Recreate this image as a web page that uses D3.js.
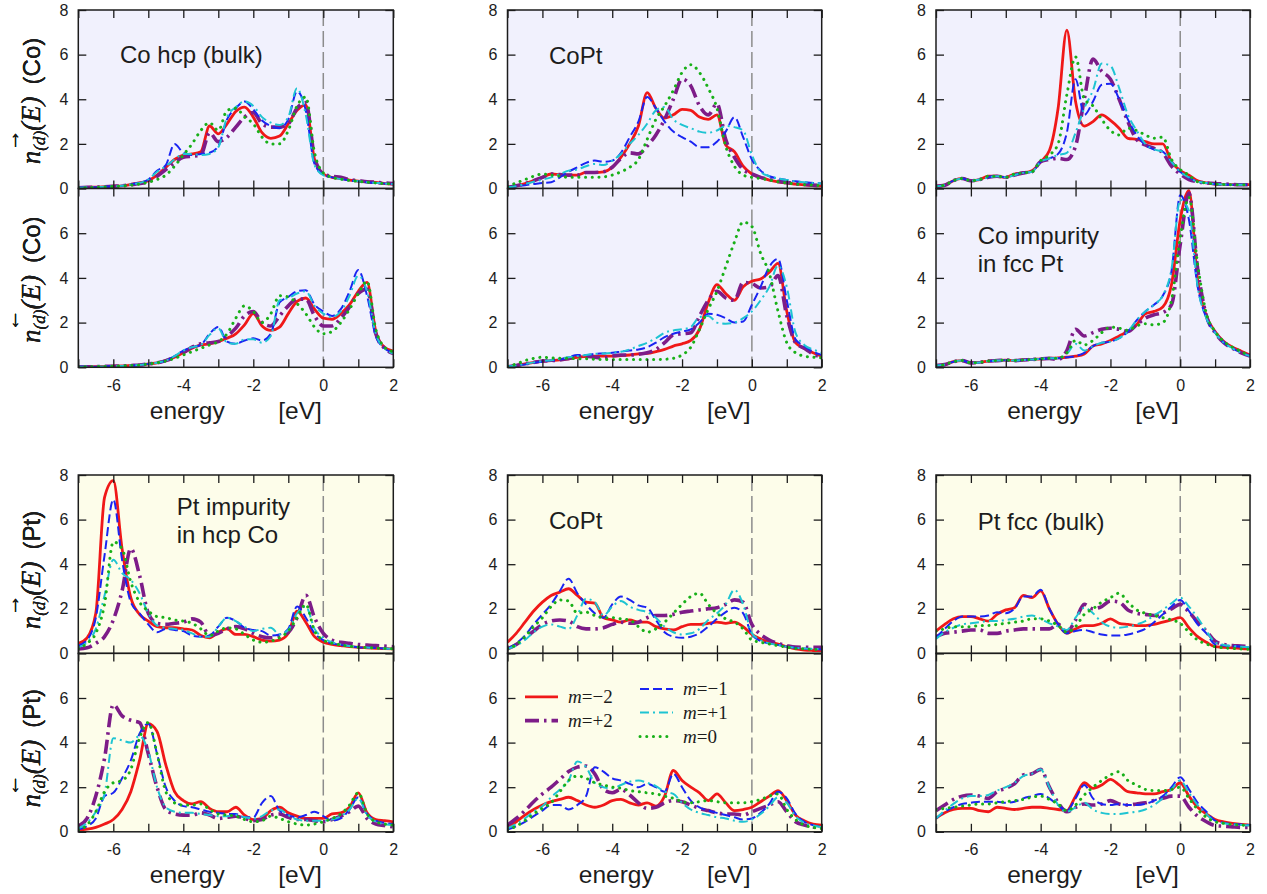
<!DOCTYPE html>
<html>
<head>
<meta charset="utf-8">
<script src="https://cdn.jsdelivr.net/npm/d3@7"></script>
<style>
  body { margin: 0; background: #fff; }
  svg { display: block; }
</style>
</head>
<body>
<svg id="chart" width="1267" height="894"></svg>
<script>
// ---- energy grid (eV) shared by every curve ----
const energy = [-7,-6.75,-6.5,-6.25,-6,-5.75,-5.5,-5.25,-5,-4.75,-4.5,-4.25,-4,-3.75,-3.5,-3.25,-3,-2.75,-2.5,-2.25,-2,-1.75,-1.5,-1.25,-1,-0.75,-0.5,-0.25,0,0.25,0.5,0.75,1,1.25,1.5,1.75,2];
const xTickValues = [-7,-6,-5,-4,-3,-2,-1,0,1,2];
const xTickLabels = [-6,-4,-2,0,2];
const yTickValues = [0,2,4,6,8];

// ---- Co hcp (bulk), Co site ----
const coHcpUp_mm2 = [0.03,0.05,0.06,0.08,0.1,0.12,0.18,0.25,0.35, 0.6,0.95,1.3,1.5,1.55,1.65,2.8,2.45, 2.9,3.45,3.65,3.2,2.5,2.25,2.35,2.9, 3.5,3.75,1.3,0.65,0.5,0.45,0.38,0.33, 0.3,0.27,0.22,0.2];
const coHcpUp_mp2 = [0.03,0.05,0.06,0.08,0.1,0.12,0.17,0.22,0.3, 0.55,0.85,1.15,1.4,1.45,1.5,2.5,2.1, 2.3,2.75,3.2,3.4,2.9,2.75,2.75,2.9, 3.6,3.85,1.4,0.65,0.55,0.5,0.4,0.35, 0.3,0.28,0.25,0.22];
const coHcpUp_mm1 = [0.03,0.04,0.06,0.08,0.1,0.12,0.18,0.25,0.4, 0.8,1.05,2.0,1.6,1.5,1.55,1.6,1.9, 3.1,3.6,3.9,3.55,3.05,2.8,2.7,3.1, 4.35,3.5,1.1,0.62,0.5,0.42,0.36,0.32, 0.28,0.25,0.22,0.2];
const coHcpUp_mp1 = [0.03,0.04,0.06,0.08,0.1,0.12,0.18,0.25,0.4, 0.75,1.0,1.3,1.55,1.55,1.5,1.55,1.85, 3.2,3.65,3.9,3.7,3.2,2.95,2.85,3.2, 4.5,3.3,1.05,0.6,0.5,0.42,0.36,0.32, 0.28,0.25,0.22,0.2];
const coHcpUp_m0  = [0.03,0.04,0.05,0.07,0.09,0.11,0.15,0.2,0.28, 0.4,0.6,1.0,1.5,2.0,2.6,2.95,2.6, 3.5,3.6,3.2,2.9,2.3,2.0,2.0,2.6, 3.7,4.1,1.6,0.7,0.5,0.42,0.36,0.32, 0.28,0.25,0.22,0.2];
const coHcpDn_mm2 = [0.02,0.02,0.03,0.04,0.05,0.06,0.08,0.1,0.15, 0.2,0.3,0.45,0.65,0.85,1.0,1.05,1.15, 1.3,1.5,1.9,2.4,1.85,1.65,1.8,2.4, 2.95,3.1,2.6,2.2,2.15,2.4,2.8,3.4, 3.8,1.6,0.9,0.72];
const coHcpDn_mp2 = [0.02,0.02,0.03,0.04,0.05,0.06,0.08,0.1,0.15, 0.2,0.3,0.45,0.65,0.9,1.05,1.1,1.15, 1.4,1.75,2.3,2.5,2.0,1.85,2.3,2.75, 3.05,3.05,2.3,1.85,1.85,2.2,2.7,3.3, 3.5,1.5,0.85,0.62];
const coHcpDn_mm1 = [0.02,0.02,0.03,0.04,0.05,0.06,0.08,0.1,0.15, 0.2,0.3,0.5,0.75,0.9,1.0,1.5,1.8, 1.15,1.05,1.2,1.3,1.2,1.5,2.9,3.15, 3.4,3.45,2.8,2.5,2.3,2.6,3.4,4.35, 3.2,1.4,0.85,0.65];
const coHcpDn_mp1 = [0.02,0.02,0.03,0.04,0.05,0.06,0.08,0.1,0.15, 0.2,0.3,0.5,0.75,0.9,1.0,1.45,1.75, 1.1,1.05,1.25,1.25,1.1,1.4,3.0,3.1, 3.3,3.4,2.75,2.4,2.25,2.5,3.2,4.1, 3.4,1.5,0.85,0.62];
const coHcpDn_m0  = [0.02,0.02,0.03,0.04,0.05,0.06,0.08,0.1,0.15, 0.2,0.28,0.4,0.55,0.7,0.85,1.0,1.15, 1.5,2.2,2.75,2.5,2.0,2.4,3.2,3.15, 2.85,2.4,1.8,1.5,1.6,2.0,2.6,3.3, 3.85,1.7,0.9,0.7];

// ---- CoPt, Co site ----
const coPtCoUp_mm2 = [0.05,0.12,0.22,0.35,0.5,0.65,0.62,0.6,0.6, 0.72,0.72,0.75,0.95,1.4,2.0,2.8,4.3, 3.6,3.15,3.3,3.55,3.5,3.2,3.1,3.3, 1.95,1.65,1.0,0.65,0.5,0.38,0.3,0.24, 0.2,0.16,0.13,0.12];
const coPtCoUp_mp2 = [0.05,0.12,0.22,0.35,0.5,0.65,0.62,0.6,0.6, 0.72,0.72,0.75,0.95,1.35,1.6,1.55,1.9, 2.4,3.1,4.0,4.9,4.6,3.7,3.3,3.8, 2.2,1.4,0.85,0.65,0.5,0.4,0.32,0.27, 0.22,0.18,0.15,0.13];
const coPtCoUp_mm1 = [0.05,0.1,0.15,0.2,0.25,0.28,0.5,0.75,0.95, 1.15,1.25,1.2,1.25,1.6,2.3,3.0,4.1, 3.6,3.0,2.55,2.3,2.1,1.85,1.85,2.1, 2.55,3.2,2.3,1.3,0.8,0.55,0.45,0.38, 0.32,0.28,0.25,0.22];
const coPtCoUp_mp1 = [0.05,0.1,0.2,0.3,0.4,0.5,0.65,0.8,0.85, 1.0,1.1,1.05,1.25,1.55,2.0,2.4,2.9, 3.5,3.65,3.1,2.85,2.7,2.55,2.5,2.6, 2.8,2.75,2.6,1.5,0.75,0.55,0.45,0.38, 0.32,0.28,0.25,0.22];
const coPtCoUp_m0  = [0.1,0.25,0.4,0.55,0.65,0.6,0.55,0.5,0.5, 0.5,0.5,0.52,0.6,0.75,0.95,1.3,2.2, 3.1,3.7,4.4,5.2,5.55,5.2,4.5,3.6, 1.9,1.0,0.6,0.5,0.45,0.38,0.3,0.25, 0.2,0.17,0.15,0.13];
const coPtCoDn_mm2 = [0.02,0.08,0.15,0.22,0.27,0.3,0.33,0.38,0.45, 0.48,0.5,0.5,0.5,0.52,0.55,0.6,0.62, 0.7,0.8,0.95,1.05,1.2,1.7,2.9,3.7, 3.3,3.0,3.6,3.85,3.95,4.25,4.65,2.5, 1.1,0.85,0.65,0.5];
const coPtCoDn_mp2 = [0.02,0.08,0.15,0.22,0.28,0.3,0.33,0.4,0.48, 0.5,0.45,0.42,0.5,0.55,0.55,0.58,0.65, 0.8,1.1,1.45,1.5,1.55,2.3,3.0,3.4, 3.1,3.0,3.8,3.75,3.55,3.6,4.1,2.3, 1.1,0.85,0.6,0.45];
const coPtCoDn_mm1 = [0.03,0.08,0.13,0.2,0.25,0.3,0.35,0.45,0.55, 0.55,0.6,0.62,0.65,0.7,0.75,0.8,0.9, 1.1,1.35,1.5,1.6,1.7,2.0,2.4,2.35, 2.2,2.0,2.05,2.8,3.6,4.5,4.85,3.0, 1.25,0.95,0.7,0.55];
const coPtCoDn_mp1 = [0.03,0.08,0.15,0.22,0.28,0.32,0.38,0.45,0.5, 0.55,0.6,0.62,0.65,0.7,0.8,0.95,1.1, 1.3,1.55,1.65,1.7,1.8,2.25,2.3,2.0, 1.95,2.0,2.2,2.5,3.0,3.6,4.55,3.6, 1.55,1.0,0.8,0.65];
const coPtCoDn_m0  = [0.05,0.15,0.3,0.4,0.45,0.42,0.4,0.4,0.38, 0.38,0.36,0.35,0.35,0.35,0.35,0.35,0.35, 0.35,0.36,0.4,0.55,0.9,1.7,2.6,3.4, 4.5,5.6,6.5,6.3,5.1,4.2,2.5,1.1, 0.65,0.5,0.45,0.42];

// ---- Co impurity in fcc Pt, Co site ----
const coImpUp_mm2 = [0.1,0.15,0.35,0.45,0.35,0.4,0.55,0.55,0.5, 0.65,0.7,0.8,1.2,1.7,3.6,7.1,3.9, 2.8,3.0,3.3,3.05,2.7,2.25,2.2,2.1, 2.0,2.0,1.2,0.8,0.6,0.35,0.25,0.2, 0.18,0.17,0.17,0.17];
const coImpUp_mp2 = [0.1,0.15,0.35,0.45,0.35,0.4,0.5,0.55,0.5, 0.6,0.7,0.75,1.2,1.3,1.35,1.3,1.9, 4.0,5.8,5.25,4.9,4.0,3.0,2.2,1.95, 1.8,1.6,1.0,0.65,0.4,0.3,0.25,0.22, 0.2,0.18,0.17,0.17];
const coImpUp_mm1 = [0.1,0.15,0.35,0.45,0.35,0.4,0.5,0.55,0.5, 0.6,0.7,0.75,1.2,1.35,1.55,2.5,4.9, 3.3,3.9,4.65,4.7,4.0,3.1,2.4,1.95, 1.75,1.65,1.2,0.75,0.5,0.3,0.25,0.2, 0.18,0.17,0.17,0.17];
const coImpUp_mp1 = [0.1,0.15,0.35,0.45,0.35,0.4,0.5,0.55,0.5, 0.6,0.7,0.75,1.2,1.35,1.5,1.6,2.5, 3.6,4.4,5.6,5.5,4.5,3.3,2.6,2.0, 1.75,1.65,1.2,0.75,0.5,0.3,0.25,0.2, 0.18,0.17,0.17,0.17];
const coImpUp_m0  = [0.1,0.15,0.35,0.45,0.35,0.4,0.55,0.55,0.5, 0.65,0.7,0.75,1.25,1.5,2.0,4.2,5.9, 4.0,3.7,3.1,2.6,2.4,2.7,2.6,2.4, 2.25,2.3,1.3,0.85,0.6,0.3,0.25,0.2, 0.18,0.17,0.17,0.17];
const coImpDn_mm2 = [0.08,0.12,0.25,0.3,0.2,0.22,0.28,0.3,0.32, 0.3,0.33,0.35,0.38,0.4,0.42,0.45,0.5, 0.6,0.95,1.05,1.2,1.4,1.6,1.9,2.4, 2.5,2.7,3.7,6.6,7.9,3.9,2.3,1.6, 1.15,0.9,0.72,0.55];
const coImpDn_mp2 = [0.08,0.12,0.25,0.3,0.2,0.22,0.28,0.3,0.32, 0.3,0.33,0.35,0.38,0.4,0.35,0.75,1.7, 1.4,1.55,1.7,1.75,1.7,1.6,1.9,2.2, 2.35,2.45,2.8,5.5,7.8,4.4,2.3,1.55, 1.1,0.85,0.65,0.5];
const coImpDn_mm1 = [0.08,0.12,0.25,0.3,0.2,0.22,0.28,0.3,0.32, 0.3,0.33,0.35,0.38,0.4,0.4,0.45,0.5, 0.65,0.95,1.1,1.15,1.3,1.6,2.1,2.5, 2.8,3.2,4.3,7.7,6.6,3.6,2.2,1.55, 1.1,0.85,0.65,0.5];
const coImpDn_mp1 = [0.08,0.12,0.25,0.3,0.2,0.22,0.28,0.3,0.32, 0.3,0.33,0.35,0.38,0.4,0.42,0.6,1.05, 0.75,0.95,1.1,1.15,1.3,1.6,2.1,2.5, 2.8,3.2,4.4,7.5,7.0,3.6,2.2,1.55, 1.1,0.85,0.65,0.5];
const coImpDn_m0  = [0.08,0.12,0.25,0.3,0.2,0.22,0.28,0.3,0.32, 0.3,0.33,0.35,0.38,0.4,0.4,0.65,1.2, 1.0,1.2,1.55,1.8,1.75,1.65,1.85,1.95, 1.9,2.0,3.0,5.8,7.6,4.6,2.4,1.6, 1.15,0.9,0.7,0.52];

// ---- Pt impurity in hcp Co, Pt site ----
const ptImpUp_mm2 = [0.45,0.7,1.8,7.0,7.75,4.7,2.5,1.75,1.45, 1.2,1.15,1.15,1.1,1.05,0.8,0.7,0.95, 1.1,0.85,0.85,0.75,0.6,0.55,0.6,0.9, 1.9,1.4,0.75,0.5,0.4,0.35,0.3,0.27, 0.25,0.23,0.21,0.2];
const ptImpUp_mp2 = [0.2,0.25,0.45,0.75,1.5,2.8,4.7,3.5,1.8, 1.35,1.3,1.35,1.4,1.55,1.4,0.8,0.9, 1.1,1.2,1.1,0.9,0.75,0.7,0.8,0.95, 1.6,2.6,1.6,0.9,0.6,0.5,0.45,0.4, 0.37,0.35,0.33,0.3];
const ptImpUp_mm1 = [0.35,0.6,1.6,4.4,6.9,4.2,2.3,1.8,1.3, 0.95,1.1,1.05,1.0,0.8,0.75,0.8,1.2, 1.6,1.45,1.15,1.05,1.0,0.8,0.85,1.1, 2.1,1.6,0.9,0.6,0.45,0.38,0.32,0.28, 0.26,0.24,0.22,0.2];
const ptImpUp_mp1 = [0.27,0.5,1.1,2.6,4.2,3.6,3.3,2.7,1.8, 1.25,1.15,1.1,1.05,0.9,0.75,0.75,1.2, 1.6,1.45,1.2,1.0,1.1,1.15,0.85,1.05, 1.8,2.1,1.1,0.7,0.5,0.4,0.33,0.29, 0.26,0.24,0.22,0.2];
const ptImpUp_m0  = [0.2,0.45,0.9,2.2,5.0,4.7,3.2,2.3,1.9, 1.65,1.6,1.5,1.45,1.35,1.1,0.8,1.0, 1.15,1.1,0.85,0.6,0.5,0.55,0.7,1.0, 1.6,2.2,1.0,0.6,0.45,0.38,0.32,0.28, 0.26,0.24,0.22,0.2];
const ptImpDn_mm2 = [0.08,0.12,0.2,0.35,0.55,1.0,1.8,3.2,4.85, 4.5,3.0,1.8,1.4,1.25,1.35,1.05,0.9, 0.9,1.1,0.75,0.55,0.6,0.95,1.1,0.85, 0.7,0.6,0.6,0.6,0.8,0.85,1.1,1.75, 0.85,0.55,0.5,0.45];
const ptImpDn_mp2 = [0.25,0.6,1.6,3.3,5.7,5.2,5.0,4.9,3.5, 2.0,1.0,0.8,0.75,0.75,0.85,0.75,0.6, 0.65,0.7,0.6,0.5,0.55,0.75,0.8,0.65, 0.55,0.55,0.5,0.45,0.55,0.7,0.9,1.15, 0.6,0.35,0.28,0.22];
const ptImpDn_mm1 = [0.1,0.25,0.6,1.6,1.75,2.4,3.2,4.4,4.85, 3.5,2.0,1.4,1.15,1.1,1.0,0.9,0.85, 0.8,0.8,0.65,0.65,1.3,1.6,0.95,0.75, 0.65,0.75,0.9,0.7,0.5,0.6,1.0,1.55, 0.8,0.5,0.4,0.35];
const ptImpDn_mp1 = [0.15,0.4,0.9,1.7,4.2,4.1,4.0,4.3,3.6, 2.0,1.1,0.9,0.85,0.85,0.8,0.75,0.7, 0.7,0.75,0.65,0.6,0.7,0.95,1.0,0.75, 0.55,0.5,0.5,0.5,0.55,0.7,1.0,1.5, 0.75,0.45,0.35,0.3];
const ptImpDn_m0  = [0.08,0.3,0.9,1.8,2.2,2.3,2.8,4.2,4.9, 3.5,1.8,1.3,1.2,1.2,1.25,1.0,0.8, 0.75,0.7,0.55,0.45,0.5,0.7,0.6,0.45, 0.35,0.3,0.35,0.45,0.6,0.8,1.2,1.75, 0.8,0.45,0.35,0.3];

// ---- CoPt, Pt site ----
const coPtPtUp_mm2 = [0.5,0.9,1.4,1.9,2.3,2.6,2.75,2.9,2.6, 2.3,2.25,1.6,1.5,1.4,1.5,1.4,1.4, 1.2,1.1,1.05,1.2,1.3,1.3,1.35,1.4, 1.35,1.4,1.2,0.85,0.65,0.5,0.42,0.3, 0.2,0.15,0.13,0.12];
const coPtPtUp_mp2 = [0.2,0.4,0.7,1.0,1.3,1.45,1.5,1.45,1.2, 1.1,1.1,1.15,1.3,1.4,1.35,1.4,1.6, 1.7,1.7,1.75,1.85,1.9,1.95,2.0,2.05, 2.2,2.4,2.3,1.3,0.85,0.6,0.45,0.35, 0.28,0.27,0.27,0.27];
const coPtPtUp_mm1 = [0.2,0.45,0.8,1.3,1.75,2.2,2.8,3.35,2.7, 2.2,1.8,1.6,2.2,2.55,2.4,2.15,2.05, 1.5,0.95,0.75,0.7,0.75,0.9,1.2,1.55, 1.85,2.05,1.8,0.85,0.55,0.45,0.38,0.3, 0.25,0.22,0.2,0.18];
const coPtPtUp_mp1 = [0.2,0.35,0.6,0.95,1.2,1.3,1.2,1.1,1.7, 2.45,2.3,1.7,2.1,2.35,2.1,1.95,1.85, 1.6,1.2,0.95,0.85,0.9,1.1,1.5,1.8, 2.2,2.85,2.2,0.9,0.6,0.45,0.38,0.3, 0.25,0.22,0.2,0.2];
const coPtPtUp_m0  = [0.2,0.4,0.75,1.2,1.6,2.1,2.4,2.35,1.8, 1.85,1.7,1.6,1.6,1.55,1.5,1.2,0.95, 1.1,1.4,1.8,2.2,2.55,2.7,2.2,1.8, 1.55,1.4,1.1,0.6,0.5,0.42,0.35,0.28, 0.22,0.2,0.18,0.17];
const coPtPtDn_mm2 = [0.2,0.45,0.75,1.0,1.2,1.35,1.45,1.55,1.4, 1.2,1.1,1.2,1.4,1.45,1.3,1.2,1.3, 1.15,1.6,2.75,2.3,2.0,1.75,1.4,1.7, 1.3,0.95,1.0,1.1,1.35,1.6,1.85,1.4, 0.75,0.5,0.35,0.3];
const coPtPtDn_mp2 = [0.3,0.6,0.95,1.35,1.7,2.0,2.35,2.7,2.9, 2.95,2.6,1.9,1.75,1.9,1.65,1.3,1.05, 1.1,1.3,1.4,1.35,1.2,1.05,0.95,0.85, 0.8,0.8,0.75,0.9,1.05,1.2,1.35,0.9, 0.45,0.3,0.22,0.18];
const coPtPtDn_mm1 = [0.1,0.25,0.45,0.7,0.95,1.2,1.2,1.0,1.2, 1.6,2.9,2.7,2.4,2.3,2.15,2.0,2.15, 2.0,1.8,2.6,2.0,1.4,1.1,0.95,0.85, 0.75,0.65,0.55,0.6,0.85,1.25,1.8,1.5, 0.8,0.45,0.3,0.22];
const coPtPtDn_mp1 = [0.15,0.35,0.6,0.9,1.15,1.55,1.9,2.3,3.15, 2.9,2.2,2.0,1.95,2.1,2.25,2.3,2.2, 2.05,1.8,1.7,1.3,1.0,0.85,0.75,0.65, 0.6,0.5,0.45,0.55,0.8,1.15,1.55,1.3, 0.7,0.4,0.28,0.2];
const coPtPtDn_m0  = [0.1,0.25,0.5,0.8,1.05,1.3,1.8,2.3,2.5, 2.4,2.2,2.1,2.0,1.95,1.85,1.8,1.75, 1.7,1.6,1.5,1.35,1.3,1.35,1.4,1.35, 1.3,1.3,1.3,1.35,1.45,1.6,1.7,1.0, 0.55,0.3,0.2,0.15];

// ---- Pt fcc (bulk), Pt site ----
const ptFccUp_mm2 = [1.0,1.3,1.55,1.65,1.65,1.55,1.45,1.75,1.95, 2.05,2.6,2.5,2.8,2.0,1.3,0.9,1.1, 1.25,1.25,1.35,1.55,1.35,1.3,1.25,1.25, 1.3,1.4,1.5,1.6,1.15,0.75,0.5,0.3, 0.27,0.25,0.22,0.2];
const ptFccUp_mp2 = [0.75,0.9,0.95,1.0,1.05,1.05,0.9,0.9,1.0, 1.05,1.1,1.1,1.1,1.1,1.3,0.95,1.5, 2.2,2.0,2.1,2.35,2.3,1.95,1.8,1.75, 1.7,1.8,2.0,2.2,1.85,1.4,1.0,0.55, 0.4,0.35,0.33,0.3];
const ptFccUp_mm1 = [0.7,1.1,1.45,1.65,1.65,1.65,1.7,1.85,1.8, 2.0,2.55,2.55,2.85,2.0,1.3,0.9,1.0, 1.05,0.95,0.85,0.8,0.8,0.85,0.95,1.1, 1.4,1.75,2.1,2.4,1.9,1.3,0.9,0.4, 0.35,0.33,0.3,0.25];
const ptFccUp_mp1 = [0.65,0.95,1.15,1.3,1.35,1.4,1.45,1.45,1.5, 1.55,1.65,1.7,1.55,1.35,1.2,1.05,1.6, 2.05,1.8,1.4,1.2,1.15,1.2,1.3,1.45, 1.7,1.95,2.25,2.5,2.1,1.6,1.0,0.5, 0.38,0.33,0.3,0.27];
const ptFccUp_m0  = [1.0,1.1,1.2,1.2,1.2,1.25,1.25,1.3,1.35, 1.4,1.45,1.55,1.55,1.45,1.25,0.95,1.2, 1.75,2.0,2.3,2.5,2.7,2.3,1.95,1.8, 1.7,1.6,1.5,1.35,0.95,0.6,0.42,0.3, 0.25,0.22,0.2,0.18];
const ptFccDn_mm2 = [0.6,0.85,1.0,1.05,1.05,0.95,0.9,1.1,1.05, 1.0,1.05,1.1,1.1,1.05,1.0,0.95,1.6, 2.2,1.95,2.1,2.35,2.1,1.8,1.75,1.7, 1.7,1.8,1.9,2.2,1.6,1.1,0.8,0.55, 0.45,0.38,0.33,0.3];
const ptFccDn_mp2 = [0.95,1.2,1.45,1.6,1.65,1.6,1.5,1.8,1.95, 2.15,2.55,2.6,2.8,2.0,1.3,0.9,1.1, 1.25,1.2,1.25,1.4,1.25,1.2,1.25,1.3, 1.4,1.5,1.6,1.6,1.1,0.7,0.45,0.28, 0.25,0.22,0.2,0.2];
const ptFccDn_mm1 = [0.6,0.9,1.1,1.25,1.3,1.35,1.35,1.35,1.3, 1.35,1.5,1.6,1.7,1.5,1.2,0.95,1.5, 2.1,1.5,1.25,1.2,1.25,1.2,1.2,1.25, 1.4,1.6,2.0,2.45,1.9,1.3,0.9,0.5, 0.4,0.35,0.33,0.3];
const ptFccDn_mp1 = [0.6,0.95,1.25,1.5,1.6,1.6,1.65,1.85,2.0, 2.2,2.5,2.6,2.8,2.0,1.2,0.9,1.1, 1.3,1.0,0.85,0.8,0.8,0.85,0.9,1.0, 1.2,1.5,1.9,2.3,1.75,1.2,0.8,0.45, 0.38,0.33,0.3,0.28];
const ptFccDn_m0  = [1.0,1.05,1.1,1.15,1.2,1.25,1.25,1.3,1.35, 1.4,1.45,1.55,1.6,1.45,1.25,0.95,1.2, 1.65,2.0,2.3,2.55,2.7,2.3,2.1,1.9, 1.85,1.85,1.9,2.0,1.5,1.0,0.65,0.45, 0.38,0.33,0.3,0.28];

// ---- series appearance (drawing order: first is bottom) ----
const seriesOrder = ["mm2","mp2","mm1","mp1","m0"];
const seriesStyle = {
  mm2: { color: "#f01818", width: 2.8, dash: null,           cap: "butt",  label: "\u22122" },
  mp2: { color: "#7d1c88", width: 3.6, dash: "14,5,2.5,5",   cap: "butt",  label: "+2" },
  mm1: { color: "#1a24f2", width: 2.0, dash: "9,4",          cap: "butt",  label: "\u22121" },
  mp1: { color: "#1ec4d2", width: 2.0, dash: "9,4,2,4",      cap: "butt",  label: "+1" },
  m0:  { color: "#18b018", width: 3.0, dash: "0.1,6.6",      cap: "round", label: "0" }
};

// ---- panel table ----
const cols = [ {x0: 78.3, x1: 393.3}, {x0: 507.5, x1: 821.7}, {x0: 936, x1: 1250} ];
const rows = [ {top: 10, mid: 188.5, bot: 367.3}, {top: 475, mid: 653.4, bot: 831.8} ];

const panels = [
  { col: 0, row: 0, site: "Co", title: ["Co hcp (bulk)"], titleIn: "up", titleAt: [41.7, 53],
    up: {mm2: coHcpUp_mm2, mp2: coHcpUp_mp2, mm1: coHcpUp_mm1, mp1: coHcpUp_mp1, m0: coHcpUp_m0},
    dn: {mm2: coHcpDn_mm2, mp2: coHcpDn_mp2, mm1: coHcpDn_mm1, mp1: coHcpDn_mp1, m0: coHcpDn_m0} },
  { col: 1, row: 0, site: "Co", title: ["CoPt"], titleIn: "up", titleAt: [41.5, 54],
    up: {mm2: coPtCoUp_mm2, mp2: coPtCoUp_mp2, mm1: coPtCoUp_mm1, mp1: coPtCoUp_mp1, m0: coPtCoUp_m0},
    dn: {mm2: coPtCoDn_mm2, mp2: coPtCoDn_mp2, mm1: coPtCoDn_mm1, mp1: coPtCoDn_mp1, m0: coPtCoDn_m0} },
  { col: 2, row: 0, site: "Co", title: ["Co impurity", "in fcc Pt"], titleIn: "dn", titleAt: [41.7, 55.5],
    up: {mm2: coImpUp_mm2, mp2: coImpUp_mp2, mm1: coImpUp_mm1, mp1: coImpUp_mp1, m0: coImpUp_m0},
    dn: {mm2: coImpDn_mm2, mp2: coImpDn_mp2, mm1: coImpDn_mm1, mp1: coImpDn_mp1, m0: coImpDn_m0} },
  { col: 0, row: 1, site: "Pt", title: ["Pt impurity", "in hcp Co"], titleIn: "up", titleAt: [98.4, 40],
    up: {mm2: ptImpUp_mm2, mp2: ptImpUp_mp2, mm1: ptImpUp_mm1, mp1: ptImpUp_mp1, m0: ptImpUp_m0},
    dn: {mm2: ptImpDn_mm2, mp2: ptImpDn_mp2, mm1: ptImpDn_mm1, mp1: ptImpDn_mp1, m0: ptImpDn_m0} },
  { col: 1, row: 1, site: "Pt", title: ["CoPt"], titleIn: "up", titleAt: [41.5, 54], legend: true,
    up: {mm2: coPtPtUp_mm2, mp2: coPtPtUp_mp2, mm1: coPtPtUp_mm1, mp1: coPtPtUp_mp1, m0: coPtPtUp_m0},
    dn: {mm2: coPtPtDn_mm2, mp2: coPtPtDn_mp2, mm1: coPtPtDn_mm1, mp1: coPtPtDn_mp1, m0: coPtPtDn_m0} },
  { col: 2, row: 1, site: "Pt", title: ["Pt fcc (bulk)"], titleIn: "up", titleAt: [41.7, 55],
    up: {mm2: ptFccUp_mm2, mp2: ptFccUp_mp2, mm1: ptFccUp_mm1, mp1: ptFccUp_mp1, m0: ptFccUp_m0},
    dn: {mm2: ptFccDn_mm2, mp2: ptFccDn_mp2, mm1: ptFccDn_mm1, mp1: ptFccDn_mp1, m0: ptFccDn_m0} }
];

const SANS = "'Liberation Sans', Arial, Helvetica, sans-serif";
const SERIF = "'Liberation Serif', 'Times New Roman', Times, serif";
const INK = "#1c1c1c";
const rowFill = ["#f1f1fd", "#fdfdea"];

const svg = d3.select("#chart");
let clipId = 0;

function drawSub(panel, spin, top, bot, x) {
  const row = panel.row;
  const y = d3.scaleLinear().domain([0, 8]).range([bot, top]);
  const data = panel[spin];
  const g = svg.append("g");
  const x0 = x.range()[0], x1 = x.range()[1];

  g.append("rect").attr("x", x0).attr("y", top).attr("width", x1 - x0).attr("height", bot - top)
    .attr("fill", rowFill[row]);

  const cid = "clip" + (clipId++);
  svg.append("clipPath").attr("id", cid).append("rect")
    .attr("x", x0).attr("y", top).attr("width", x1 - x0).attr("height", bot - top);

  // Fermi level marker
  g.append("line").attr("x1", x(0)).attr("x2", x(0)).attr("y1", top).attr("y2", bot)
    .attr("stroke", "#8c8c8c").attr("stroke-width", 1.5).attr("stroke-dasharray", "16,5");

  const line = d3.line()
    .x((d, i) => x(energy[i]))
    .y(d => y(d))
    .curve(d3.curveMonotoneX);

  const curves = g.append("g").attr("clip-path", `url(#${cid})`);
  seriesOrder.forEach(k => {
    const s = seriesStyle[k];
    curves.append("path")
      .attr("d", line(data[k]))
      .attr("fill", "none")
      .attr("stroke", s.color)
      .attr("stroke-width", s.width)
      .attr("stroke-dasharray", s.dash)
      .attr("stroke-linecap", s.cap)
      .attr("stroke-linejoin", "round");
  });

  // ticks, all pointing inward
  const tickFmtX = d => (spin === "dn" && xTickLabels.includes(d)) ? String(d) : "";
  const axB = g.append("g").attr("transform", `translate(0,${bot})`)
    .call(d3.axisBottom(x).tickValues(xTickValues).tickSize(-8).tickPadding(12).tickFormat(tickFmtX));
  const axT = g.append("g").attr("transform", `translate(0,${top})`)
    .call(d3.axisTop(x).tickValues(xTickValues).tickSize(-8).tickFormat(""));
  const yVals = spin === "up" ? yTickValues : [0, 2, 4, 6];
  const axL = g.append("g").attr("transform", `translate(${x0},0)`)
    .call(d3.axisLeft(y).tickValues(yTickValues).tickSize(-8).tickPadding(10)
      .tickFormat(d => yVals.includes(d) ? String(d) : ""));
  const axR = g.append("g").attr("transform", `translate(${x1},0)`)
    .call(d3.axisRight(y).tickValues(yTickValues).tickSize(-8).tickFormat(""));
  [axB, axT, axL, axR].forEach(a => {
    a.attr("font-size", null).attr("font-family", null);
    a.select(".domain").remove();
    a.selectAll(".tick line").attr("stroke", INK).attr("stroke-width", 1.3);
    a.selectAll(".tick text").attr("fill", INK).style("font-family", SANS).style("font-size", "16px");
  });

  g.append("rect").attr("x", x0).attr("y", top).attr("width", x1 - x0).attr("height", bot - top)
    .attr("fill", "none").attr("stroke", INK).attr("stroke-width", 1.5);

  // y-axis title: n_(d)(E) with spin arrow, then the site
  const mid = (top + bot) / 2;
  const lab = g.append("g").attr("transform", `translate(40,${mid}) rotate(-90)`).attr("fill", INK);
  const t = lab.append("text").attr("x", -65).attr("y", 0);
  t.append("tspan").text("n").style("font-family", SERIF).style("font-style", "italic").style("font-size", "27px");
  t.append("tspan").text("(d)").attr("dy", 5).style("font-family", SERIF).style("font-style", "italic").style("font-size", "17px");
  t.append("tspan").text("(E)").attr("dy", -5).style("font-family", SERIF).style("font-style", "italic").style("font-size", "27px");
  t.append("tspan").text("(" + panel.site + ")").attr("dx", 12).style("font-family", SANS).style("font-size", "24px");
  // spin arrow, upright, set over the n
  g.append("text").attr("x", 15.5).attr("y", mid + (spin === "up" ? 47 : 48.5))
    .attr("text-anchor", "middle").attr("fill", INK)
    .text(spin === "up" ? "\u2191" : "\u2193")
    .style("font-family", SERIF).style("font-size", "22px");

  return { g, y };
}

panels.forEach(p => {
  const c = cols[p.col], r = rows[p.row];
  const x = d3.scaleLinear().domain([-7, 2]).range([c.x0, c.x1]);
  drawSub(p, "up", r.top, r.mid, x);
  drawSub(p, "dn", r.mid, r.bot, x);

  // panel title
  const tTop = p.titleIn === "up" ? r.top : r.mid;
  const title = svg.append("text").attr("fill", INK)
    .style("font-family", SANS).style("font-size", "24px");
  p.title.forEach((line, i) => {
    title.append("tspan").attr("x", c.x0 + p.titleAt[0]).attr("y", tTop + p.titleAt[1] + i * 27.7).text(line);
  });

  // x-axis title
  const w = c.x1 - c.x0;
  svg.append("text").attr("x", c.x0 + w * 0.346).attr("y", r.bot + 51.5).attr("text-anchor", "middle")
    .attr("fill", INK).style("font-family", SANS).style("font-size", "24.5px").text("energy");
  svg.append("text").attr("x", c.x0 + w * 0.704).attr("y", r.bot + 51.5).attr("text-anchor", "middle")
    .attr("fill", INK).style("font-family", SANS).style("font-size", "24.5px").text("[eV]");

  if (p.legend) {
    const lg = svg.append("g").attr("transform", `translate(${c.x0},${r.mid})`);
    const entries = [
      { k: "mm2", lx: 17.5, tx: 60.5, y: 43.5 },
      { k: "mp2", lx: 17.5, tx: 60.5, y: 67.2 },
      { k: "mm1", lx: 132.5, tx: 175.5, y: 35.5 },
      { k: "mp1", lx: 132.5, tx: 175.5, y: 59.2 },
      { k: "m0",  lx: 132.5, tx: 175.5, y: 83.2 }
    ];
    entries.forEach(e => {
      const s = seriesStyle[e.k];
      lg.append("line").attr("x1", e.lx).attr("x2", e.lx + 33).attr("y1", e.y).attr("y2", e.y)
        .attr("stroke", s.color).attr("stroke-width", s.width)
        .attr("stroke-dasharray", s.dash).attr("stroke-linecap", s.cap);
      const tx = lg.append("text").attr("x", e.tx).attr("y", e.y + 6).attr("fill", INK)
        .style("font-family", SERIF).style("font-size", "19px");
      tx.append("tspan").text("m").style("font-style", "italic");
      tx.append("tspan").text("=" + s.label);
    });
  }
});
</script>
</body>
</html>
